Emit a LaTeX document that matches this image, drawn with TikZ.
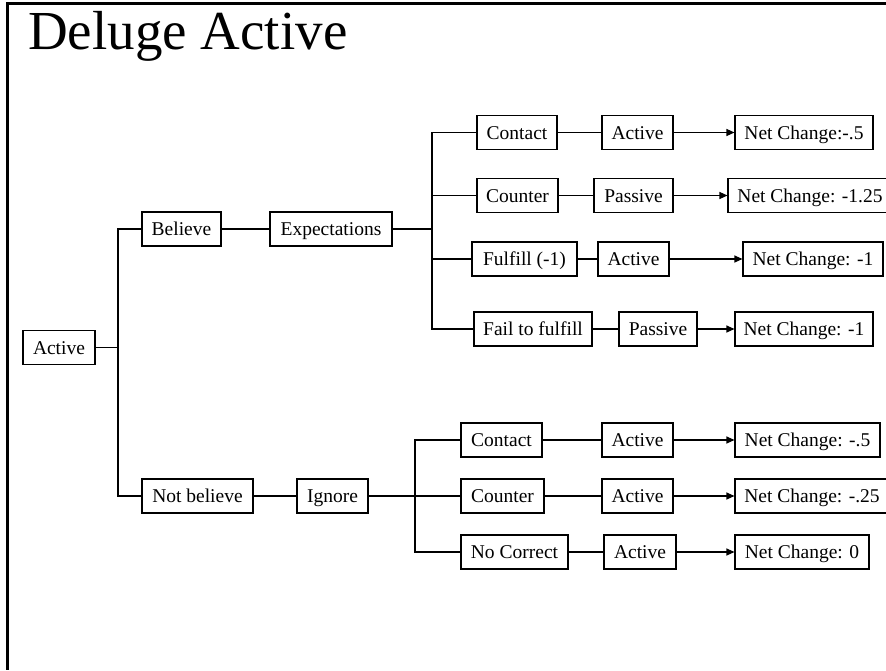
\documentclass[tikz,border=0pt]{standalone}
\usepackage{fontspec}
\setmainfont{Liberation Serif}
\usetikzlibrary{arrows.meta}
\tikzset{
  box/.style={draw, line width=1.1pt, minimum height=34, inner sep=0pt,
    text height=15pt, text depth=2pt, font=\fontsize{19.5}{22}\selectfont},
  link/.style={line width=1.1pt},
  arrowlink/.style={line width=1.1pt, -{Triangle[length=8pt,width=7pt]}},
  frameline/.style={line width=3pt}
}
\begin{document}
\begin{tikzpicture}[x=1pt, y=-1pt]
\useasboundingbox (0,0) rectangle (886,670);

% page frame and title
\coordinate (ftl) at (7.5,3.5);
\coordinate (ftr) at (886,3.5);
\coordinate (fbl) at (7.5,670);
\draw[frameline] (ftr) -- (ftl) -- (fbl);
\node[anchor=base west, inner sep=0pt, font=\fontsize{55}{60}\selectfont] (title) at (28,49) {Deluge Active};

% root and first level
\node[box, minimum width=72]  (act)  at (59,347.5)  {Active};
\node[box, minimum width=79]  (bel)  at (181.5,229) {Believe};
\node[box, minimum width=122] (exp)  at (331,229)   {Expectations};
\node[box, minimum width=111] (nbel) at (197.5,496) {Not believe};
\node[box, minimum width=71]  (ign)  at (332.5,496) {Ignore};

% expectations branch
\node[box, minimum width=80]  (a1) at (517,132.5)   {Contact};
\node[box, minimum width=71]  (a2) at (637.5,132.5) {Active};
\node[box, minimum width=138] (a3) at (804,132.5)   {Net Change:-.5};
\node[box, minimum width=81]  (b1) at (517.5,195.5) {Counter};
\node[box, minimum width=79]  (b2) at (633.5,195.5) {Passive};
\node[box, minimum width=164] (b3) at (810,195.5)   {Net Change: -1.25};
\node[box, minimum width=105] (c1) at (524.5,259)   {Fulfill (-1)};
\node[box, minimum width=71]  (c2) at (633.5,259)   {Active};
\node[box, minimum width=140] (c3) at (813,259)     {Net Change: -1};
\node[box, minimum width=118] (d1) at (533,329)     {Fail to fulfill};
\node[box, minimum width=78]  (d2) at (658,329)     {Passive};
\node[box, minimum width=138] (d3) at (804,329)     {Net Change: -1};

% ignore branch
\node[box, minimum width=81]  (e1) at (501.5,440) {Contact};
\node[box, minimum width=71]  (e2) at (637.5,440) {Active};
\node[box, minimum width=145] (e3) at (807.5,440) {Net Change: -.5};
\node[box, minimum width=83]  (f1) at (502.5,496) {Counter};
\node[box, minimum width=71]  (f2) at (637.5,496) {Active};
\node[box, minimum width=154] (f3) at (812,496)   {Net Change: -.25};
\node[box, minimum width=107] (g1) at (514.5,552) {No Correct};
\node[box, minimum width=72]  (g2) at (640,552)   {Active};
\node[box, minimum width=134] (g3) at (802,552)   {Net Change: 0};

% junction points of the tree
\coordinate (j1) at (118,347.5);
\coordinate (j2) at (432,229);
\coordinate (j3) at (415,496);

% root split
\draw[link] (act.east) -- (j1);
\draw[link] (j1) |- (bel.west);
\draw[link] (j1) |- (nbel.west);
\draw[link] (bel) -- (exp);
\draw[link] (nbel) -- (ign);

% expectations split
\draw[link] (exp.east) -- (j2);
\draw[link] (j2) |- (a1.west);
\draw[link] (j2) |- (b1.west);
\draw[link] (j2) |- (c1.west);
\draw[link] (j2) |- (d1.west);
\draw[link] (a1) -- (a2);
\draw[link] (b1) -- (b2);
\draw[link] (c1) -- (c2);
\draw[link] (d1) -- (d2);
\draw[arrowlink] (a2) -- (a3);
\draw[arrowlink] (b2) -- (b3);
\draw[arrowlink] (c2) -- (c3);
\draw[arrowlink] (d2) -- (d3);

% ignore split
\draw[link] (ign.east) -- (j3);
\draw[link] (j3) |- (e1.west);
\draw[link] (j3) -- (f1.west);
\draw[link] (j3) |- (g1.west);
\draw[link] (e1) -- (e2);
\draw[link] (f1) -- (f2);
\draw[link] (g1) -- (g2);
\draw[arrowlink] (e2) -- (e3);
\draw[arrowlink] (f2) -- (f3);
\draw[arrowlink] (g2) -- (g3);
\end{tikzpicture}
\end{document}
